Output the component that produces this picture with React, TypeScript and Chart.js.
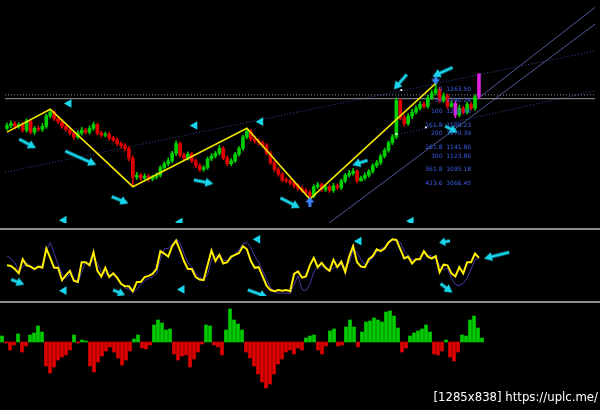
import React, { useEffect, useRef } from 'react';
import { Chart, registerables } from 'chart.js';

Chart.register(...registerables);

// ---------- Price candles (index 0..120) ----------
const opens = [
  1188, 1194, 1198, 1192, 1196, 1184, 1204, 1180, 1188, 1186,
  1192, 1214, 1222, 1208, 1202, 1192, 1186, 1178, 1170, 1178,
  1184, 1180, 1188, 1196, 1178, 1174, 1176, 1168, 1164, 1156,
  1152, 1146, 1126, 1086, 1090, 1084, 1088, 1082, 1086, 1090,
  1106, 1114, 1120, 1136, 1156, 1132, 1126, 1134, 1120, 1110,
  1102, 1106, 1124, 1130, 1136, 1146, 1126, 1114, 1120, 1134,
  1146, 1170, 1182, 1166, 1162, 1158, 1152, 1136, 1116, 1102,
  1092, 1080, 1078, 1074, 1068, 1062, 1058, 1054, 1046, 1066,
  1070, 1060, 1066, 1058, 1068, 1064, 1078, 1090, 1094, 1098,
  1078, 1084, 1090, 1098, 1110, 1116, 1130, 1142, 1158, 1170,
  1246, 1210, 1198, 1214, 1222, 1230, 1238, 1234, 1252, 1262,
  1270, 1246, 1256, 1234, 1240, 1216, 1230, 1222, 1238, 1230,
  1254,
];
const highs = [
  1199, 1203, 1202, 1200, 1201, 1208, 1207, 1192, 1193, 1198,
  1218, 1228, 1225, 1212, 1206, 1197, 1190, 1182, 1183, 1190,
  1188, 1193, 1201, 1199, 1182, 1180, 1180, 1172, 1168, 1160,
  1156, 1150, 1130, 1096, 1094, 1093, 1092, 1090, 1095, 1110,
  1118, 1126, 1140, 1162, 1160, 1136, 1139, 1138, 1124, 1114,
  1110, 1128, 1135, 1140, 1152, 1150, 1130, 1125, 1138, 1150,
  1174, 1188, 1186, 1172, 1166, 1162, 1156, 1140, 1120, 1106,
  1096, 1085, 1082, 1078, 1072, 1066, 1062, 1058, 1070, 1075,
  1074, 1071, 1070, 1073, 1072, 1082, 1094, 1100, 1104, 1102,
  1088, 1095, 1102, 1114, 1121, 1134, 1147, 1162, 1175, 1252,
  1250, 1216, 1219, 1228, 1235, 1244, 1243, 1257, 1268, 1282,
  1274, 1262, 1260, 1246, 1244, 1236, 1234, 1243, 1242, 1258,
  1302,
];
const lows = [
  1184, 1189, 1187, 1188, 1180, 1180, 1176, 1175, 1182, 1181,
  1188, 1210, 1204, 1198, 1188, 1182, 1174, 1165, 1166, 1174,
  1176, 1176, 1184, 1174, 1170, 1170, 1163, 1160, 1152, 1147,
  1141, 1120, 1066, 1081, 1079, 1080, 1077, 1078, 1082, 1086,
  1102, 1110, 1116, 1131, 1128, 1122, 1122, 1116, 1106, 1098,
  1098, 1102, 1120, 1126, 1132, 1122, 1110, 1110, 1116, 1130,
  1142, 1166, 1162, 1157, 1153, 1148, 1132, 1112, 1098, 1088,
  1076, 1074, 1070, 1064, 1058, 1054, 1050, 1040, 1043, 1062,
  1056, 1056, 1054, 1054, 1060, 1060, 1074, 1086, 1090, 1074,
  1078, 1080, 1086, 1094, 1106, 1112, 1126, 1138, 1154, 1166,
  1206, 1192, 1194, 1208, 1218, 1226, 1230, 1230, 1248, 1258,
  1242, 1242, 1230, 1232, 1210, 1212, 1218, 1218, 1226, 1226,
  1250,
];
const closes = [
  1194, 1198, 1192, 1196, 1184, 1204, 1180, 1188, 1186, 1192,
  1214, 1222, 1208, 1202, 1192, 1186, 1178, 1170, 1178, 1184,
  1180, 1188, 1196, 1178, 1174, 1176, 1168, 1164, 1156, 1152,
  1146, 1126, 1086, 1090, 1084, 1088, 1082, 1086, 1090, 1106,
  1114, 1120, 1136, 1156, 1132, 1126, 1134, 1120, 1110, 1102,
  1106, 1124, 1130, 1136, 1146, 1126, 1114, 1120, 1134, 1146,
  1170, 1182, 1166, 1162, 1158, 1152, 1136, 1116, 1102, 1092,
  1080, 1078, 1074, 1068, 1062, 1058, 1054, 1046, 1066, 1070,
  1060, 1066, 1058, 1068, 1064, 1078, 1090, 1094, 1098, 1078,
  1084, 1090, 1098, 1110, 1116, 1130, 1142, 1158, 1170, 1246,
  1210, 1198, 1214, 1222, 1230, 1238, 1234, 1252, 1262, 1270,
  1246, 1256, 1234, 1240, 1216, 1230, 1222, 1238, 1230, 1254,
  1302,
];
const magentaBars = [114, 120];

// ZigZag pivots (bar index, price)
const zigzagX = [0, 11, 32, 61, 77, 109];
const zigzagY = [1180, 1228, 1066, 1188, 1040, 1282];

// Trend / channel lines (bar index pairs, price pairs)
const hLineLevels = [1250];
const hDotLevels = [1258];
const dottedLinesX = [[-0.5, 149.5], [98.75, 149.5]];
const dottedLinesY = [[1096, 1350], [1174, 1266]];
const steepLinesX = [[81.25, 149.5], [120, 149.5]];
const steepLinesY = [[986, 1406], [1252, 1441]];

// Fibonacci expansion labels
const fibLevels = ['0', '50', '100', '161.8', '200', '261.8', '300', '361.8', '423.6'];
const fibPrices = [1263.5, 1240.24, 1216.98, 1188.23, 1170.39, 1141.86, 1123.86, 1095.18, 1066.45];
const fibLabelBar = 118;

// Signal arrows on price pane
const mArrowX = [5.25, 18.75, 28.75, 50, 72, 89.75, 100, 110.75, 113];
const mArrowY = [1156, 1126, 1038, 1076, 1032, 1116, 1285, 1306, 1186];
const mArrowAngle = [28, 24, 22, 11, 27, 162, 131, 156, 27];
const mArrowLen = [19, 34, 18, 20, 22, 16, 20, 22, 14];
const mTriX = [15.75, 47.75, 64.5, 14.5, 44, 102.75];
const mTriY = [1240, 1194, 1202, 996, 992, 994];
const mTriAngle = [30, 30, 30, 30, 30, 30];
const pivotMarkX = [77, 109];
const pivotMarkY = [1034, 1290];
const pivotMarkAngle = [-90, 90];
const whiteDotX = [100.25, 99, 106.5];
const whiteDotY = [1268, 1176, 1190];

// ---------- Oscillator ----------
const oscMain = [
  51, 50, 45, 38, 61, 51, 49, 45, 49, 47,
  78, 63, 47, 47, 27, 35, 42, 26, 24, 56,
  56, 51, 72, 42, 33, 47, 32, 38, 31, 21,
  17, 17, 9, 24, 24, 32, 34, 37, 45, 74,
  70, 65, 82, 91, 75, 58, 45, 45, 32, 28,
  27, 51, 75, 58, 68, 54, 56, 65, 68, 71,
  82, 77, 58, 47, 48, 33, 18, 11, 9, 11,
  10, 11, 9, 37, 41, 31, 33, 51, 63, 48,
  55, 47, 42, 60, 48, 57, 40, 65, 82, 56,
  49, 48, 61, 66, 77, 74, 78, 88, 93, 92,
  77, 62, 65, 54, 61, 61, 74, 65, 62, 66,
  40, 52, 51, 38, 33, 48, 38, 56, 56, 70,
  63,
];
const oscSignal = [
  66, 62, 55, 42, 48, 55, 50, 46, 48, 52,
  75, 88, 70, 52, 38, 30, 36, 30, 22, 40,
  55, 53, 62, 55, 40, 38, 35, 36, 30, 22,
  14, 12, 8, 12, 20, 26, 30, 32, 38, 60,
  78, 78, 85, 93, 88, 70, 55, 48, 38, 32,
  28, 36, 60, 66, 66, 60, 58, 62, 70, 76,
  86, 88, 80, 66, 56, 42, 28, 15, 8, 6,
  6, 6, 5, 20, 34, 12, 10, 20, 40, 48,
  50, 46, 42, 46, 50, 52, 48, 55, 76, 72,
  60, 52, 56, 64, 72, 78, 80, 86, 92, 92,
  88, 74, 66, 60, 60, 62, 70, 68, 66, 62,
  50, 44, 46, 30, 20, 18, 22, 30, 45, 60,
  62,
];
const oArrowX = [2.75, 28.5, 63.75, 111.25, 124.5, 111.75];
const oArrowY = [24, 7, 5.5, 89, 67, 14];
const oArrowAngle = [21, 23, 20, 170, 166, 37];
const oArrowLen = [14, 13, 21, 11, 26, 15];
const oTriX = [14.5, 44.5, 63.75, 89.5];
const oTriY = [10, 12, 93, 90];
const oTriAngle = [30, 30, -90, -90];

// ---------- Histogram ----------
const histValues = [
  6, -1, -8, -3, 8, -10, -4, 7, 9, 16,
  10, -24, -31, -25, -18, -15, -13, -8, 7, -1,
  2, 1, -24, -30, -20, -14, -9, -5, -10, -16,
  -23, -18, -9, 3, 7, -6, -7, -3, 17, 22,
  19, 12, 13, -12, -18, -14, -13, -25, -17, -10,
  -2, 17, 16, -3, -5, -13, 12, 33, 22, 18,
  12, -10, -16, -24, -32, -40, -46, -42, -32, -22,
  -17, -10, -8, -12, -6, -8, 4, 6, 7, -8,
  -12, -4, 11, 13, -4, -3, 15, 22, 15, -5,
  10, 20, 21, 24, 22, 20, 30, 31, 26, 14,
  -10, -6, 6, 9, 11, 13, 17, 10, -12, -13,
  -9, 2, -15, -19, -10, 7, 6, 22, 26, 14,
  4,
];

const CYAN = '#18d6ec';
const UP = '#00d000';
const DOWN = '#e00000';
const MAGENTA = '#e020e0';

function makeArrow(len: number, color: string): HTMLCanvasElement {
  const c = document.createElement('canvas');
  const h = 10;
  c.width = len;
  c.height = h;
  const g = c.getContext('2d') as CanvasRenderingContext2D;
  const head = Math.min(8, len * 0.55);
  const half = 4.5;
  const shaft = 1.4;
  const m = h / 2;
  g.fillStyle = color;
  g.beginPath();
  g.moveTo(0, m - shaft);
  g.lineTo(len - head, m - shaft);
  g.lineTo(len - head, m - half);
  g.lineTo(len, m);
  g.lineTo(len - head, m + half);
  g.lineTo(len - head, m + shaft);
  g.lineTo(0, m + shaft);
  g.closePath();
  g.fill();
  return c;
}

function makeX() {
  return {
    type: 'linear',
    min: -0.5,
    max: 149.5,
    offset: false,
    display: false,
    grid: { offset: false, display: false },
  };
}

const baseOptions = {
  responsive: false,
  animation: false,
  devicePixelRatio: 1,
  events: [],
  layout: { padding: 0 },
  plugins: { legend: { display: false }, tooltip: { enabled: false } },
};

function segLine(xs: number[], ys: number[], color: string, width: number, dash: number[]) {
  return {
    type: 'line',
    data: xs.map((x, i) => ({ x, y: ys[i] })),
    borderColor: color,
    borderWidth: width,
    borderDash: dash,
    pointRadius: 0,
    tension: 0,
    fill: false,
  };
}

const fibPlugin = {
  id: 'fibLabels',
  afterDatasetsDraw(chart: any) {
    const { ctx, scales } = chart;
    const x = scales.x.getPixelForValue(fibLabelBar);
    ctx.save();
    ctx.font = '6px "DejaVu Sans"';
    ctx.fillStyle = '#3b5ee6';
    ctx.textAlign = 'right';
    ctx.textBaseline = 'bottom';
    fibLevels.forEach((lv, i) => {
      const y = scales.y.getPixelForValue(fibPrices[i]);
      ctx.fillText(`${lv}  ${fibPrices[i].toFixed(2)}`, x, y);
    });
    ctx.restore();
  },
};

export default function App() {
  const mainRef = useRef<HTMLCanvasElement>(null);
  const oscRef = useRef<HTMLCanvasElement>(null);
  const histRef = useRef<HTMLCanvasElement>(null);

  useEffect(() => {
    const charts: Chart[] = [];
    const candleColors = closes.map((c, i) =>
      magentaBars.includes(i) ? MAGENTA : c >= opens[i] ? UP : DOWN
    );

    const mainDatasets: any[] = [
      {
        type: 'scatter',
        data: mArrowX.map((x, i) => ({ x, y: mArrowY[i] })),
        pointStyle: mArrowLen.map((l) => makeArrow(l, CYAN)),
        pointRotation: mArrowAngle,
        pointRadius: 3,
      },
      {
        type: 'scatter',
        data: mTriX.map((x, i) => ({ x, y: mTriY[i] })),
        pointStyle: 'triangle',
        pointRotation: mTriAngle,
        pointRadius: 5,
        pointBackgroundColor: CYAN,
        pointBorderWidth: 0,
      },
      {
        type: 'scatter',
        data: pivotMarkX.map((x, i) => ({ x, y: pivotMarkY[i] })),
        pointStyle: pivotMarkX.map(() => makeArrow(10, '#3a86ff')),
        pointRotation: pivotMarkAngle,
        pointRadius: 3,
      },
      {
        type: 'scatter',
        data: whiteDotX.map((x, i) => ({ x, y: whiteDotY[i] })),
        pointStyle: 'rect',
        pointRadius: 1.3,
        pointBackgroundColor: '#ffffff',
        pointBorderWidth: 0,
      },
      segLine(zigzagX, zigzagY, '#f2e600', 1.6, []),
      {
        type: 'bar',
        data: closes.map((c, i) => ({ x: i, y: [opens[i], c] })),
        backgroundColor: candleColors,
        barThickness: 3,
        grouped: false,
      },
      {
        type: 'bar',
        data: closes.map((_, i) => ({ x: i, y: [lows[i], highs[i]] })),
        backgroundColor: candleColors,
        barThickness: 1,
        grouped: false,
      },
      ...hLineLevels.map((p) => segLine([-0.5, 149.5], [p, p], '#9a9a9a', 1, [])),
      ...hDotLevels.map((p) => segLine([-0.5, 149.5], [p, p], '#8a8a9a', 1, [1, 2])),
      ...dottedLinesX.map((xs, k) => segLine(xs, dottedLinesY[k], '#34479a', 1, [1, 2])),
      ...steepLinesX.map((xs, k) => segLine(xs, steepLinesY[k], '#4f5b94', 1, [])),
    ];

    if (mainRef.current) {
      charts.push(
        new Chart(mainRef.current, {
          type: 'bar',
          data: { datasets: mainDatasets },
          options: {
            ...baseOptions,
            scales: { x: makeX(), y: { min: 990, max: 1446, display: false } },
          } as any,
          plugins: [fibPlugin],
        })
      );
    }

    if (oscRef.current) {
      charts.push(
        new Chart(oscRef.current, {
          type: 'line',
          data: {
            datasets: [
              {
                type: 'scatter',
                data: oArrowX.map((x, i) => ({ x, y: oArrowY[i] })),
                pointStyle: oArrowLen.map((l) => makeArrow(l, CYAN)),
                pointRotation: oArrowAngle,
                pointRadius: 3,
              },
              {
                type: 'scatter',
                data: oTriX.map((x, i) => ({ x, y: oTriY[i] })),
                pointStyle: 'triangle',
                pointRotation: oTriAngle,
                pointRadius: 5,
                pointBackgroundColor: CYAN,
                pointBorderWidth: 0,
              },
              {
                data: oscMain.map((v, i) => ({ x: i, y: v })),
                borderColor: '#ffee00',
                borderWidth: 2,
                pointRadius: 0,
                tension: 0,
              },
              {
                data: oscSignal.map((v, i) => ({ x: i, y: v })),
                borderColor: '#4a37a6',
                borderWidth: 1,
                pointRadius: 0,
                tension: 0,
              },
            ] as any,
          },
          options: {
            ...baseOptions,
            scales: { x: makeX(), y: { min: 1.4, max: 100, display: false } },
          } as any,
        })
      );
    }

    if (histRef.current) {
      charts.push(
        new Chart(histRef.current, {
          type: 'bar',
          data: {
            datasets: [
              {
                data: histValues.map((v, i) => ({ x: i, y: v })),
                backgroundColor: histValues.map((v) => (v >= 0 ? '#00cc00' : '#dd0000')),
                barThickness: 3,
              },
            ] as any,
          },
          options: {
            ...baseOptions,
            scales: { x: makeX(), y: { min: -68, max: 39, display: false } },
          } as any,
        })
      );
    }

    return () => charts.forEach((c) => c.destroy());
  }, []);

  return (
    <div
      style={{
        position: 'fixed',
        left: 0,
        top: 0,
        width: 600,
        height: 410,
        background: '#000',
        overflow: 'hidden',
      }}
    >
      <canvas
        ref={mainRef}
        width={600}
        height={228}
        style={{ position: 'absolute', left: 0, top: 0, display: 'block' }}
      />
      <div
        style={{
          position: 'absolute',
          left: 0,
          top: 228,
          width: 600,
          height: 71,
          borderTop: '2px solid #8c8c8c',
          borderBottom: '2px solid #8c8c8c',
        }}
      >
        <canvas ref={oscRef} width={600} height={71} style={{ display: 'block' }} />
      </div>
      <canvas
        ref={histRef}
        width={600}
        height={107}
        style={{ position: 'absolute', left: 0, top: 303, display: 'block' }}
      />
      <div
        style={{
          position: 'absolute',
          right: 2,
          top: 389,
          color: '#ffffff',
          font: '13px "DejaVu Sans Condensed", "Liberation Sans", sans-serif',
          whiteSpace: 'nowrap',
        }}
      >
        [1285x838] https://uplc.me/
      </div>
    </div>
  );
}
